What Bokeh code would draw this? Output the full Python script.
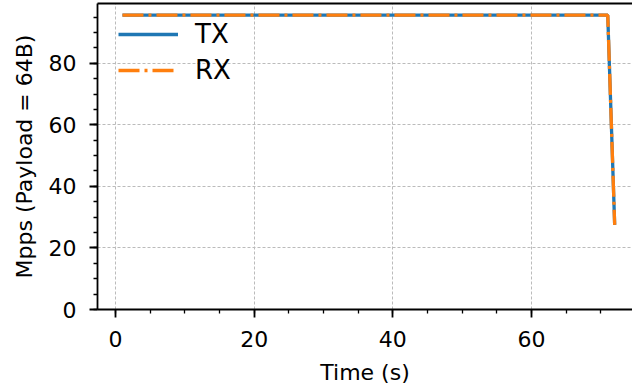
from bokeh.plotting import figure
from bokeh.models import (Range1d, SingleIntervalTicker, LinearAxis, FixedTicker,
                          Legend, LegendItem)
from bokeh.embed import file_html
from bokeh.resources import INLINE

# ---- data ----
times = [1, 2, 3, 4, 5, 6, 7, 8, 9, 10, 11, 12, 13, 14, 15, 16, 17, 18, 19, 20,
         21, 22, 23, 24, 25, 26, 27, 28, 29, 30, 31, 32, 33, 34, 35, 36, 37, 38, 39, 40,
         41, 42, 43, 44, 45, 46, 47, 48, 49, 50, 51, 52, 53, 54, 55, 56, 57, 58, 59, 60,
         61, 62, 63, 64, 65, 66, 67, 68, 69, 70, 71, 72]
tx_mpps = [95.6, 95.6, 95.6, 95.6, 95.6, 95.6, 95.6, 95.6, 95.6, 95.6,
           95.6, 95.6, 95.6, 95.6, 95.6, 95.6, 95.6, 95.6, 95.6, 95.6,
           95.6, 95.6, 95.6, 95.6, 95.6, 95.6, 95.6, 95.6, 95.6, 95.6,
           95.6, 95.6, 95.6, 95.6, 95.6, 95.6, 95.6, 95.6, 95.6, 95.6,
           95.6, 95.6, 95.6, 95.6, 95.6, 95.6, 95.6, 95.6, 95.6, 95.6,
           95.6, 95.6, 95.6, 95.6, 95.6, 95.6, 95.6, 95.6, 95.6, 95.6,
           95.6, 95.6, 95.6, 95.6, 95.6, 95.6, 95.6, 95.6, 95.6, 95.6,
           95.6, 27.5]
rx_mpps = [95.6, 95.6, 95.6, 95.6, 95.6, 95.6, 95.6, 95.6, 95.6, 95.6,
           95.6, 95.6, 95.6, 95.6, 95.6, 95.6, 95.6, 95.6, 95.6, 95.6,
           95.6, 95.6, 95.6, 95.6, 95.6, 95.6, 95.6, 95.6, 95.6, 95.6,
           95.6, 95.6, 95.6, 95.6, 95.6, 95.6, 95.6, 95.6, 95.6, 95.6,
           95.6, 95.6, 95.6, 95.6, 95.6, 95.6, 95.6, 95.6, 95.6, 95.6,
           95.6, 95.6, 95.6, 95.6, 95.6, 95.6, 95.6, 95.6, 95.6, 95.6,
           95.6, 95.6, 95.6, 95.6, 95.6, 95.6, 95.6, 95.6, 95.6, 95.6,
           95.6, 27.5]
series_names = ["TX", "RX"]
x_label = "Time (s)"
y_label = "Mpps (Payload = 64B)"

FONT = "DejaVu Sans"

p = figure(width=632, height=389, output_backend="svg", toolbar_location=None,
           x_range=Range1d(-2.6, 74.57), y_range=Range1d(0, 99.4),
           min_border_left=97, min_border_right=0, min_border_top=3, min_border_bottom=80)
p.outline_line_color = None
p.background_fill_color = "white"
p.border_fill_color = "white"

# grid
for g in (p.xgrid, p.ygrid):
    g.grid_line_color = "#bbbbbb"
    g.grid_line_width = 1
    g.grid_line_dash = "3 2"

# axes
p.xaxis.ticker = SingleIntervalTicker(interval=20, num_minor_ticks=4)
p.yaxis.ticker = SingleIntervalTicker(interval=20, num_minor_ticks=4)
for ax in (p.xaxis[0], p.yaxis[0]):
    ax.axis_line_color = "black"
    ax.axis_line_width = 1.8
    ax.major_tick_line_color = "black"
    ax.major_tick_line_width = 1.8
    ax.minor_tick_line_color = "black"
    ax.minor_tick_line_width = 1.3
    ax.major_tick_out = 8
    ax.major_tick_in = 0
    ax.minor_tick_out = 4
    ax.minor_tick_in = 0
    ax.major_label_text_font = FONT
    ax.major_label_text_font_size = "22px"
    ax.major_label_text_color = "black"
    ax.axis_label_text_font = FONT
    ax.axis_label_text_font_size = "22px"
    ax.axis_label_text_font_style = "normal"
    ax.axis_label_text_color = "black"
p.xaxis.axis_label = x_label
p.yaxis.axis_label = y_label
p.xaxis.major_label_standoff = 13
p.xaxis.axis_label_standoff = 10
p.yaxis.major_label_standoff = 13
p.yaxis.axis_label_standoff = 9

# top spine
top = LinearAxis(ticker=FixedTicker(ticks=[]), axis_line_color="black",
                 axis_line_width=1.8, major_tick_line_color=None,
                 minor_tick_line_color=None, major_label_text_font_size="0px")
p.add_layout(top, "above")

r_tx = p.line(times, tx_mpps, line_color="#1f77b4", line_width=3.3)
r_rx = p.line(times, rx_mpps, line_color="#ff7f0e", line_width=3.3, line_dash="21 5 3 5")

legend = Legend(items=[LegendItem(label=series_names[0], renderers=[r_tx]),
                       LegendItem(label=series_names[1], renderers=[r_rx])],
                location=(21, 224), margin=0, padding=0, spacing=6,
                glyph_width=60, glyph_height=30, label_height=30, label_standoff=17,
                label_text_font=FONT, label_text_font_size="26px",
                label_text_color="black",
                border_line_color=None, background_fill_alpha=0)
p.add_layout(legend)

open("out.html", "w").write(file_html(p, INLINE))
